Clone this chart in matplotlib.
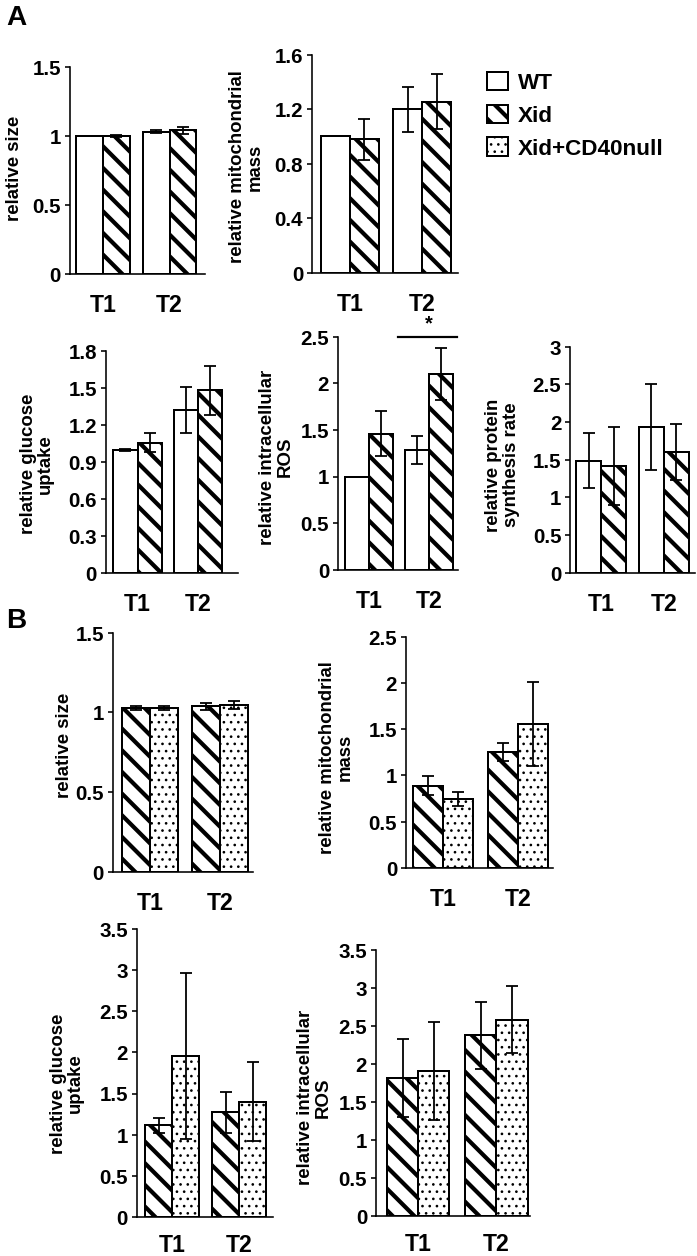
import matplotlib
matplotlib.use("Agg")
import matplotlib.pyplot as plt
from matplotlib.patches import Patch
import numpy as np

# ---------------- data ----------------
categories = ["T1", "T2"]

# Panel A: WT vs Xid
A_size_wt = [1.0, 1.03]
A_size_wt_err = [0.0, 0.008]
A_size_xid = [1.0, 1.04]
A_size_xid_err = [0.008, 0.025]

A_mito_wt = [1.0, 1.2]
A_mito_wt_err = [0.0, 0.165]
A_mito_xid = [0.98, 1.255]
A_mito_xid_err = [0.15, 0.2]

A_glu_wt = [0.995, 1.32]
A_glu_wt_err = [0.005, 0.185]
A_glu_xid = [1.054, 1.478]
A_glu_xid_err = [0.075, 0.2]

A_ros_wt = [1.0, 1.28]
A_ros_wt_err = [0.0, 0.15]
A_ros_xid = [1.46, 2.1]
A_ros_xid_err = [0.24, 0.28]

A_prot_wt = [1.49, 1.94]
A_prot_wt_err = [0.37, 0.57]
A_prot_xid = [1.42, 1.6]
A_prot_xid_err = [0.52, 0.37]

# Panel B: Xid vs Xid+CD40null
B_size_xid = [1.028, 1.038]
B_size_xid_err = [0.01, 0.02]
B_size_cd = [1.028, 1.049]
B_size_cd_err = [0.01, 0.025]

B_mito_xid = [0.89, 1.255]
B_mito_xid_err = [0.1, 0.1]
B_mito_cd = [0.745, 1.56]
B_mito_cd_err = [0.08, 0.455]

B_glu_xid = [1.115, 1.27]
B_glu_xid_err = [0.09, 0.25]
B_glu_cd = [1.954, 1.40]
B_glu_cd_err = [1.01, 0.48]

B_ros_xid = [1.816, 2.377]
B_ros_xid_err = [0.515, 0.44]
B_ros_cd = [1.908, 2.58]
B_ros_cd_err = [0.64, 0.44]

legend_labels = ["WT", "Xid", "Xid+CD40null"]

# ---------------- styling ----------------
W, H = 697, 1256
DPI = 130
PT = 72.0 / DPI  # points per pixel

plt.rcParams["font.family"] = ["Liberation Sans", "DejaVu Sans"]
plt.rcParams["font.weight"] = "bold"
plt.rcParams["hatch.linewidth"] = 4.0 * PT
plt.rcParams["hatch.color"] = "black"

FS_TICK = 20.5 * PT
FS_CAT = 23 * PT
FS_YLAB = 18.6 * PT
FS_LEG = 22.5 * PT
FS_PANEL = 28 * PT

STRIPE_LW = 4.2 * PT
DOT_LW = 1.2 * PT

STYLE = {
    "WT": dict(hatch=None, dots=False),
    "Xid": dict(hatch="\\\\", dots=False),
    "Xid+CD40null": dict(hatch="...", dots=True),
}

fig = plt.figure(figsize=((W + 0.4) / DPI, (H + 0.4) / DPI), dpi=DPI)
fig.patch.set_facecolor("white")


def set_hlw(p, lw):
    try:
        p.set_hatch_linewidth(lw)
    except AttributeError:
        pass


def make_axes(left, right, top, bottom, c1, c2, ymax, ystep, catpad=20):
    ax = fig.add_axes([left / W, 1 - bottom / H, (right - left) / W, (bottom - top) / H])
    u = c2 - c1
    ax.set_xlim((left - c1) / u, (right - c1) / u)
    ax.set_ylim(0, ymax)
    ticks = np.round(np.arange(0, ymax + 1e-9, ystep), 3)
    ax.set_yticks(ticks)
    ax.set_yticklabels([f"{t:g}" for t in ticks], fontsize=FS_TICK, fontweight="bold")
    ax.set_xticks(range(len(categories)))
    ax.set_xticklabels(categories, fontsize=FS_CAT, fontweight="bold")
    for s in ["top", "right"]:
        ax.spines[s].set_visible(False)
    for s in ["left", "bottom"]:
        ax.spines[s].set_linewidth(1.6 * PT)
    ax.tick_params(axis="y", direction="out", length=5 * PT, width=1.6 * PT, pad=4 * PT)
    ax.tick_params(axis="x", length=0, pad=catpad * PT)
    ax.patch.set_alpha(0)
    return ax


def draw_pair(ax, groups, vals, errs):
    w = 0.4
    x = np.arange(len(categories))
    for k, (g, v, e) in enumerate(zip(groups, vals, errs)):
        pos = x + (k - 0.5) * w
        st = STYLE[g]
        bars = ax.bar(pos, v, width=w, facecolor="white", edgecolor="black",
                      linewidth=2.0 * PT, hatch=st["hatch"], zorder=2)
        for b in bars:
            set_hlw(b, DOT_LW if st["dots"] else STRIPE_LW)
        ax.errorbar(pos, v, yerr=e, fmt="none", ecolor="black", elinewidth=1.8 * PT,
                    capsize=5.5 * PT, capthick=1.8 * PT, zorder=3)


def ylabel(ax, text, xc, yc, left, right, top, bottom):
    ax.set_ylabel(text, fontsize=FS_YLAB, fontweight="bold", ha="center", va="center",
                  multialignment="center", linespacing=1.05)
    ax.yaxis.set_label_coords((xc - left) / (right - left), (bottom - yc) / (bottom - top))


# ---------------- Panel A ----------------
A1 = (70, 205, 67, 274, 103, 169.5, 1.5, 0.5)
ax = make_axes(*A1)
draw_pair(ax, ["WT", "Xid"], [A_size_wt, A_size_xid], [A_size_wt_err, A_size_xid_err])
ylabel(ax, "relative size", 14.5, 168, 70, 205, 67, 274)

A2 = (312, 458, 55, 273, 349.5, 422, 1.6, 0.4)
ax = make_axes(*A2)
draw_pair(ax, ["WT", "Xid"], [A_mito_wt, A_mito_xid], [A_mito_wt_err, A_mito_xid_err])
ylabel(ax, "relative mitochondrial\nmass", 246, 167, 312, 458, 55, 273)

A3 = (106, 238, 351, 573, 137.5, 198, 1.8, 0.3)
ax = make_axes(*A3)
draw_pair(ax, ["WT", "Xid"], [A_glu_wt, A_glu_xid], [A_glu_wt_err, A_glu_xid_err])
ylabel(ax, "relative glucose\nuptake", 37, 464, 106, 238, 351, 573)

A4 = (338, 458, 337, 570, 369, 429, 2.5, 0.5)
ax = make_axes(*A4)
draw_pair(ax, ["WT", "Xid"], [A_ros_wt, A_ros_xid], [A_ros_wt_err, A_ros_xid_err])
ylabel(ax, "relative intracellular\nROS", 276, 457, 338, 458, 337, 570)
# significance bar between T2 groups
ax.plot([0.48, 1.47], [2.5, 2.5], color="black", lw=2.2 * PT, clip_on=False, zorder=4)
ax.text(1.0, 2.545, "*", ha="center", va="bottom", fontsize=20 * PT, fontweight="bold")

A5 = (570, 695, 347, 573, 601, 663.5, 3.0, 0.5)
ax = make_axes(*A5)
draw_pair(ax, ["WT", "Xid"], [A_prot_wt, A_prot_xid], [A_prot_wt_err, A_prot_xid_err])
ylabel(ax, "relative protein\nsynthesis rate", 502, 465, 570, 695, 347, 573)

# ---------------- Panel B ----------------
B1 = (113, 253, 633, 872, 150, 220, 1.5, 0.5)
ax = make_axes(*B1)
draw_pair(ax, ["Xid", "Xid+CD40null"], [B_size_xid, B_size_cd], [B_size_xid_err, B_size_cd_err])
ylabel(ax, "relative size", 64, 745, 113, 253, 633, 872)

B2 = (406, 553, 637, 868, 443, 518, 2.5, 0.5)
ax = make_axes(*B2)
draw_pair(ax, ["Xid", "Xid+CD40null"], [B_mito_xid, B_mito_cd], [B_mito_xid_err, B_mito_cd_err])
ylabel(ax, "relative mitochondrial\nmass", 336, 757, 406, 553, 637, 868)

B3 = (137, 273, 929, 1217, 172, 239, 3.5, 0.5, 17)
ax = make_axes(*B3)
draw_pair(ax, ["Xid", "Xid+CD40null"], [B_glu_xid, B_glu_cd], [B_glu_xid_err, B_glu_cd_err])
ylabel(ax, "relative glucose\nuptake", 67, 1083, 137, 273, 929, 1217)

B4 = (376, 530, 950, 1216, 418, 496, 3.5, 0.5, 17)
ax = make_axes(*B4)
draw_pair(ax, ["Xid", "Xid+CD40null"], [B_ros_xid, B_ros_cd], [B_ros_xid_err, B_ros_cd_err])
ylabel(ax, "relative intracellular\nROS", 314, 1097, 376, 530, 950, 1216)

# ---------------- legend ----------------
handles = [Patch(facecolor="white", edgecolor="black", linewidth=2.0 * PT,
                 hatch=STYLE[g]["hatch"]) for g in legend_labels]
leg = fig.legend(handles, legend_labels, loc="upper left", bbox_to_anchor=(487 / W, 1 - 72 / H),
                 frameon=False, prop={"weight": "bold", "size": FS_LEG},
                 handlelength=0.9, handleheight=0.9, handletextpad=0.45, labelspacing=0.48,
                 borderpad=0, borderaxespad=0)
for g, h in zip(legend_labels, leg.legend_handles):
    set_hlw(h, DOT_LW if STYLE[g]["dots"] else STRIPE_LW)

# ---------------- panel letters ----------------
fig.text(6 / W, 1 - 5 / H, "A", fontsize=FS_PANEL, fontweight="bold", ha="left", va="top")
fig.text(6 / W, 1 - 608 / H, "B", fontsize=FS_PANEL, fontweight="bold", ha="left", va="top")

fig.savefig("out.png", dpi=DPI, facecolor="white")
